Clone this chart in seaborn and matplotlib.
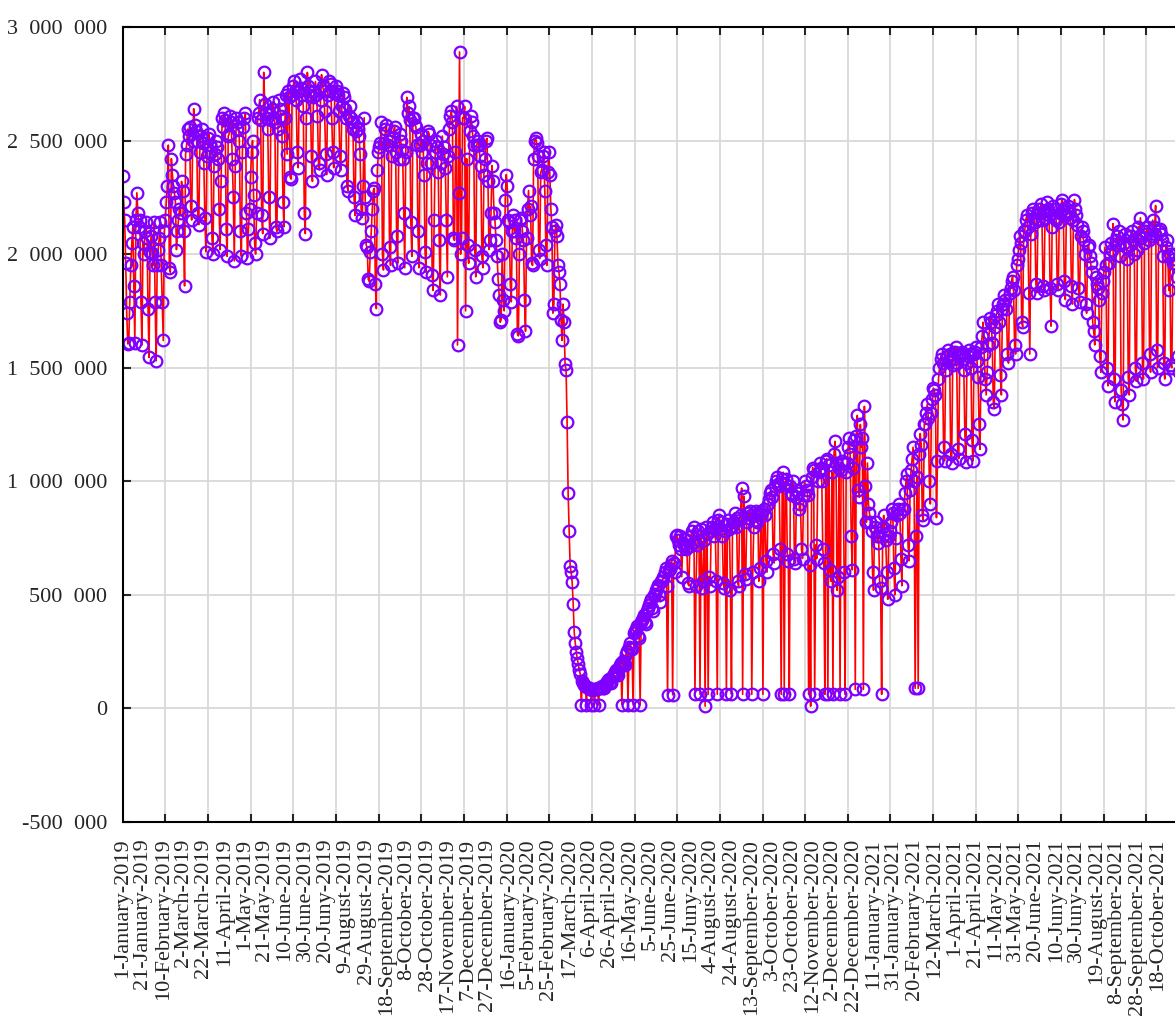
import numpy as np
import pandas as pd
import seaborn as sns
import matplotlib.pyplot as plt
from matplotlib.ticker import FuncFormatter

# daily values in thousands (Feb 29 2020 is not in the series)
values_2019 = [
    2345, 2230, 2150, 1960, 1740, 1605, 1610,
    1790, 1950, 2050, 2120, 1860, 1610, 2150,
    2270, 2180, 2120, 2150, 1790, 1600, 2050,
    2000, 2100, 2140, 2070, 1760, 1545, 2010,
    2080, 2005, 1950, 2140, 1790, 1530, 1950,
    2020, 2070, 2140, 1950, 1790, 1620, 2100,
    2150, 2230, 2300, 2480, 1940, 1920, 2420,
    2350, 2300, 2270, 2230, 2020, 2100, 2150,
    2200, 2180, 2320, 2280, 2100, 1860, 2440,
    2480, 2550, 2520, 2560, 2210, 2150, 2500,
    2640, 2570, 2540, 2500, 2180, 2130, 2450,
    2520, 2550, 2490, 2400, 2160, 2010, 2430,
    2510, 2530, 2480, 2450, 2070, 2000, 2390,
    2440, 2500, 2470, 2420, 2200, 2020, 2320,
    2600, 2560, 2620, 2590, 2110, 1990, 2520,
    2530, 2610, 2580, 2420, 2250, 1970, 2390,
    2600, 2550, 2580, 2500, 2100, 1990, 2450,
    2560, 2600, 2620, 2180, 1985, 2110, 2200,
    2340, 2450, 2500, 2260, 2050, 2000, 2180,
    2600, 2620, 2680, 2590, 2170, 2090, 2800,
    2660, 2620, 2600, 2550, 2250, 2070, 2590,
    2640, 2670, 2600, 2580, 2120, 2100, 2550,
    2680, 2640, 2610, 2520, 2230, 2120, 2600,
    2700, 2440, 2720, 2690, 2340, 2330, 2700,
    2740, 2760, 2720, 2680, 2450, 2380, 2720,
    2770, 2730, 2700, 2650, 2180, 2090, 2600,
    2800, 2740, 2720, 2700, 2430, 2320, 2690,
    2720, 2760, 2700, 2610, 2400, 2370, 2680,
    2790, 2740, 2720, 2630, 2440, 2350, 2700,
    2760, 2720, 2750, 2600, 2450, 2380, 2710,
    2740, 2720, 2700, 2630, 2430, 2370, 2650,
    2710, 2690, 2640, 2600, 2300, 2280, 2610,
    2650, 2600, 2580, 2550, 2250, 2170, 2540,
    2580, 2550, 2520, 2440, 2200, 2160, 2300,
    2600, 2250, 2040, 2030, 1890, 1880, 2010,
    2100, 2200, 2280, 2290, 1870, 1760, 2370,
    2450, 2470, 2490, 2580, 2000, 1930, 2490,
    2550, 2570, 2480, 2500, 2030, 1950, 2430,
    2510, 2540, 2560, 2450, 2080, 1960, 2420,
    2530, 2500, 2460, 2420, 2180, 1940, 2450,
    2690, 2620, 2650, 2590, 2140, 1990, 2600,
    2600, 2570, 2560, 2480, 2100, 1940, 2480,
    2530, 2450, 2500, 2350, 2010, 1920, 2400,
    2540, 2530, 2480, 2400, 1910, 1840, 2150,
    2450, 2500, 2470, 2360, 2060, 1820, 2400,
    2520, 2440, 2470, 2380, 2150, 1900, 2430,
    2550, 2610, 2630, 2580, 2070, 2060, 2450,
    2650, 1600, 2270, 2890, 2000, 2070, 2600,
    2600, 2650, 1750, 2420, 2040, 1960, 2540,
    2610, 2580, 2520, 2480, 2020, 1900, 2480,
    2500, 2480, 2430, 2390, 1990, 1940, 2350,
    2420, 2500, 2510, 2320, 2020, 2060, 2180,
    2390,
]

values_2020 = [
    2320, 2180, 2140, 2060, 1990, 1890,
    1820, 1700, 1710, 2000, 1800, 1750, 2240,
    2350, 2300, 2150, 2140, 1870, 1790, 2100,
    2170, 2100, 2150, 2070, 1650, 1640, 2000,
    2150, 2160, 2100, 2060, 1800, 1660, 2070,
    2200, 2280, 2170, 2210, 1960, 1950, 2420,
    2500, 2510, 2490, 2430, 2020, 1980, 2360,
    2370, 2430, 2450, 2280, 2040, 1950, 2360,
    2450, 2350, 2200, 2120, 1740, 1780, 2100,
    2130, 2080, 1950, 1920, 1870, 1710, 1620,
    1780, 1700, 1515, 1490, 1260, 950, 780,
    625, 600, 555, 460, 335, 290, 250,
    220, 195, 170, 150, 15, 120, 110,
    105, 100, 15, 95, 90, 88, 85,
    15, 82, 85, 15, 84, 86, 88,
    15, 92, 95, 98, 90, 88, 105,
    110, 118, 125, 130, 115, 110, 140,
    142, 150, 160, 170, 150, 145, 180,
    190, 200, 15, 210, 200, 190, 240,
    255, 15, 270, 290, 265, 260, 15,
    330, 340, 350, 365, 320, 310, 15,
    380, 390, 400, 410, 380, 370, 430,
    440, 455, 470, 480, 440, 430, 500,
    505, 520, 530, 545, 500, 470, 560,
    560, 580, 600, 620, 540, 60, 610,
    615, 630, 650, 60, 640, 600, 760,
    765, 740, 720, 760, 700, 580, 730,
    720, 745, 700, 710, 550, 540, 715,
    760, 780, 730, 800, 62, 540, 720,
    780, 740, 62, 790, 530, 560, 740,
    10, 800, 770, 62, 580, 540, 780,
    800, 820, 760, 790, 560, 62, 830,
    850, 790, 820, 760, 550, 530, 780,
    62, 810, 830, 790, 520, 62, 800,
    820, 860, 800, 840, 560, 540, 830,
    850, 970, 62, 935, 590, 570, 820,
    860, 840, 870, 850, 62, 600, 800,
    830, 870, 820, 860, 560, 620, 850,
    870, 62, 880, 850, 650, 600, 900,
    920, 950, 960, 930, 680, 640, 980,
    1000, 1020, 990, 980, 700, 62, 1010,
    1040, 62, 990, 1010, 680, 650, 62,
    980, 950, 940, 1000, 660, 640, 930,
    960, 950, 880, 900, 700, 660, 940,
    1000, 980, 960, 940, 62, 630, 10,
    1020, 1060, 1050, 62, 720, 660, 1000,
    1040, 1080, 1060, 1000, 700, 640, 62,
    1090, 1100, 62, 1070, 610, 560, 1040,
    62, 1120, 1176, 1080, 520, 580, 1060,
    62, 1050, 1090, 1080, 600, 62, 1040,
    1080, 1150, 1190, 1120, 760, 610, 1060,
    1180, 84, 1200, 1290, 960, 930, 1250,
    1150, 1190,
]

values_2021 = [
    84, 1330, 980, 820, 1080,
    900, 860, 820, 780, 600, 520, 800,
    820, 760, 730, 760, 560, 530, 62,
    800, 850, 770, 740, 600, 480, 760,
    780, 820, 880, 860, 620, 500, 750,
    850, 880, 900, 860, 660, 540, 880,
    880, 950, 1000, 1030, 720, 650, 960,
    1050, 1100, 1150, 1000, 88, 760, 1020,
    88, 1120, 1210, 1160, 850, 830, 1250,
    1250, 1300, 1340, 1280, 1000, 900, 1300,
    1360, 1410, 1400, 1380, 840, 1090, 1450,
    1500, 1540, 1560, 1520, 1150, 1090, 1490,
    1550, 1580, 1530, 1560, 1120, 1080, 1510,
    1540, 1570, 1590, 1520, 1140, 1100, 1550,
    1560, 1570, 1540, 1490, 1210, 1085, 1520,
    1550, 1580, 1560, 1500, 1180, 1090, 1560,
    1570, 1590, 1530, 1460, 1250, 1140, 1590,
    1640, 1700, 1560, 1450, 1380, 1480, 1600,
    1650, 1720, 1700, 1610, 1350, 1320, 1680,
    1730, 1750, 1780, 1700, 1470, 1380, 1760,
    1780, 1820, 1800, 1760, 1560, 1520, 1830,
    1850, 1880, 1900, 1840, 1600, 1560, 1950,
    1980, 2020, 2080, 2050, 1700, 1680, 2100,
    2100, 2150, 2170, 2120, 1830, 1560, 2090,
    2180, 2200, 2160, 2140, 1870, 1830, 2150,
    2200, 2180, 2220, 2150, 1860, 1840, 2160,
    2190, 2230, 2200, 2170, 1850, 1683, 2120,
    2210, 2200, 2160, 2150, 1870, 1840, 2140,
    2180, 2220, 2240, 2200, 1880, 1800, 2170,
    2190, 2210, 2180, 2160, 1860, 1780, 2150,
    2240, 2200, 2170, 2130, 1850, 1790, 2080,
    2120, 2100, 2060, 2000, 1780, 1740, 2030,
    2040, 1990, 1960, 1920, 1700, 1660, 1600,
    1900, 1870, 1850, 1800, 1550, 1480, 1830,
    1880, 1920, 2030, 1950, 1500, 1420, 1960,
    2000, 2050, 2020, 2134, 1450, 1350, 2060,
    2080, 2040, 2100, 1990, 1400, 1340, 1270,
    2050, 2090, 2030, 1980, 1460, 1380, 2040,
    2080, 2100, 2060, 2000, 1500, 1440, 2020,
    2120, 2080, 2160, 2070, 1520, 1450, 2050,
    2100, 2090, 2120, 2060, 1560, 1480, 2080,
    2150, 2120, 2090, 2214, 1580, 1500, 2100,
    2110, 2090, 2060, 1990, 1520, 1450, 2030,
    2060, 1990, 1840, 2000, 1510, 1500, 1960,
    1980, 2000, 1950, 1900, 1550, 1480, 1990,
]

# one label every 20 days (labels kept as in the original)
tick_labels = [
    "1-January-2019", "21-January-2019", "10-February-2019", "2-March-2019",
    "22-March-2019", "11-April-2019", "1-May-2019", "21-May-2019",
    "10-June-2019", "30-June-2019", "20-Juny-2019", "9-August-2019",
    "29-August-2019", "18-September-2019", "8-October-2019", "28-October-2019",
    "17-November-2019", "7-December-2019", "27-December-2019", "16-January-2020",
    "5-February-2020", "25-February-2020", "17-March-2020", "6-April-2020",
    "26-April-2020", "16-May-2020", "5-June-2020", "25-June-2020",
    "15-Juny-2020", "4-August-2020", "24-August-2020", "13-September-2020",
    "3-October-2020", "23-October-2020", "12-November-2020", "2-December-2020",
    "22-December-2020", "11-January-2021", "31-January-2021", "20-February-2021",
    "12-March-2021", "1-April-2021", "21-April-2021", "11-May-2021",
    "31-May-2021", "20-June-2021", "10-Juny-2021", "30-Juny-2021",
    "19-August-2021", "8-September-2021", "28-September-2021", "18-October-2021",
]

vals = np.array(values_2019 + values_2020 + values_2021) * 1000
df = pd.DataFrame({"day": np.arange(len(vals)), "value": vals})

sns.set_style("ticks")
plt.rcParams["font.family"] = ["Liberation Serif", "DejaVu Serif"]

fig = plt.figure(figsize=(11.75, 10.21), dpi=100)
# axes runs past the right edge, like the cropped original
ax = fig.add_axes([0.1044, 0.1949, 0.9076, 0.7787])

sns.lineplot(data=df, x="day", y="value", ax=ax, color="red", lw=1.2,
             marker="o", ms=8.4, mfc="none", mec="#7f00ff", mew=1.6,
             estimator=None, sort=False)

ax.set_xlim(0, 1051)
ax.set_ylim(-500000, 3000000)
ax.set_yticks(np.arange(-500000, 3000001, 500000))
ax.yaxis.set_major_formatter(FuncFormatter(lambda v, p: f"{v:,.0f}".replace(",", "  ")))

ax.set_xticks(np.arange(len(tick_labels)) * 20, tick_labels, rotation=90)
ax.set_xticks(np.linspace(0, 1051, 26), minor=True)
ax.tick_params(axis="x", which="major", length=0, pad=12, labelsize=16)
ax.tick_params(axis="x", which="minor", direction="in", length=6, width=1.5,
               top=True, bottom=True)
ax.tick_params(axis="y", which="major", direction="in", length=6, width=1.5,
               labelsize=16, pad=11)

ax.grid(False)
ax.grid(True, which="minor", axis="x", color="#d9d9d9", lw=1.3)
ax.grid(True, which="major", axis="y", color="#d9d9d9", lw=1.3)
ax.set_axisbelow(True)
for s in ax.spines.values():
    s.set_linewidth(1.5)
    s.set_color("black")

ax.set_xlabel("")
ax.set_ylabel("")

fig.savefig("out.png", dpi=100)
